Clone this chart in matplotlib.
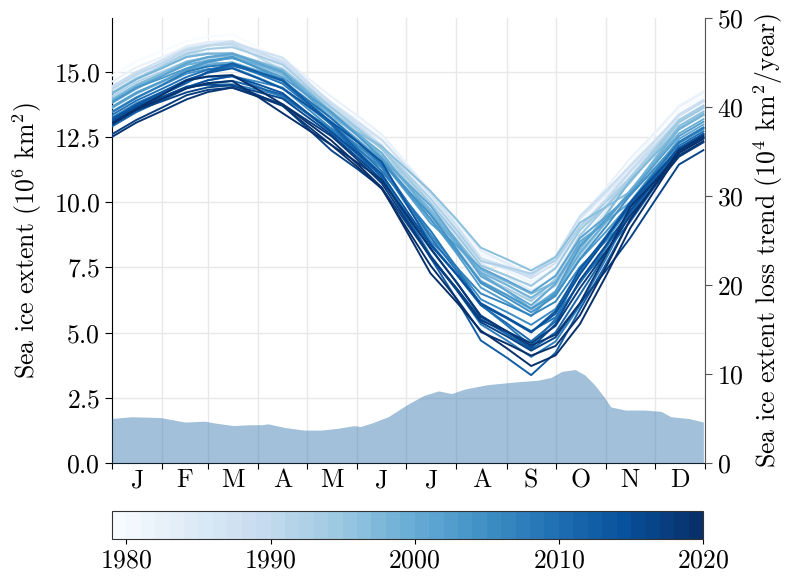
import matplotlib
matplotlib.use("Agg")
import matplotlib.pyplot as plt
import numpy as np

plt.rcParams['font.family'] = ['cmr10', 'DejaVu Serif']
plt.rcParams['mathtext.fontset'] = 'cm'
plt.rcParams['axes.formatter.use_mathtext'] = True
plt.rcParams['font.size'] = 18.5

# sample days (day of year, 0 = Jan 1): 1st and 16th of each month + Dec 31
sample_days = [0, 15, 31, 46, 59, 74, 90, 105, 120, 135, 151, 166, 181, 196,
               212, 227, 243, 258, 273, 288, 304, 319, 334, 349, 364]

years = list(range(1979, 2021))

extent = {
    1979: [14.86, 15.41, 15.80, 16.18, 16.36, 16.44, 15.95, 15.45, 14.66, 13.86, 13.20, 12.53, 11.42, 10.31, 9.18, 8.04, 7.45, 6.85, 7.40, 8.75, 9.85, 10.94, 12.23, 13.52, 14.07],
    1980: [14.31, 14.86, 15.41, 15.96, 16.10, 16.14, 15.79, 15.43, 14.61, 13.79, 13.00, 12.20, 11.15, 10.10, 9.04, 7.98, 7.73, 7.47, 7.93, 9.18, 10.33, 11.47, 12.60, 13.72, 14.27],
    1981: [14.36, 14.91, 15.26, 15.60, 15.72, 15.73, 15.37, 15.01, 14.34, 13.66, 13.04, 12.42, 11.30, 10.18, 9.00, 7.81, 7.38, 6.94, 7.50, 8.86, 9.94, 11.02, 12.16, 13.29, 13.84],
    1982: [14.63, 15.18, 15.58, 15.97, 16.11, 16.14, 15.85, 15.55, 14.80, 14.05, 13.33, 12.61, 11.52, 10.43, 9.29, 8.14, 7.62, 7.10, 7.86, 9.42, 10.55, 11.68, 12.67, 13.66, 14.21],
    1983: [14.39, 14.94, 15.47, 16.00, 16.15, 16.19, 15.68, 15.16, 14.36, 13.56, 12.97, 12.37, 11.39, 10.40, 9.28, 8.16, 7.68, 7.19, 7.87, 9.35, 10.30, 11.24, 12.28, 13.32, 13.87],
    1984: [13.91, 14.46, 14.91, 15.35, 15.58, 15.71, 15.39, 15.07, 14.37, 13.66, 12.93, 12.20, 11.10, 9.99, 8.84, 7.68, 7.15, 6.61, 7.15, 8.48, 9.65, 10.81, 11.95, 13.09, 13.64],
    1985: [14.17, 14.72, 15.19, 15.65, 15.88, 16.00, 15.73, 15.45, 14.64, 13.83, 12.99, 12.14, 10.88, 9.62, 8.55, 7.48, 6.99, 6.50, 7.21, 8.72, 9.84, 10.95, 12.03, 13.10, 13.65],
    1986: [14.34, 14.89, 15.32, 15.74, 15.99, 16.14, 15.74, 15.33, 14.59, 13.84, 13.12, 12.40, 11.35, 10.29, 9.08, 7.86, 7.54, 7.21, 7.90, 9.39, 10.38, 11.37, 12.36, 13.35, 13.90],
    1987: [14.46, 15.01, 15.46, 15.90, 16.04, 16.08, 15.82, 15.55, 14.66, 13.76, 13.08, 12.40, 11.39, 10.38, 9.13, 7.87, 7.48, 7.08, 7.67, 9.06, 10.14, 11.21, 12.30, 13.38, 13.93],
    1988: [14.35, 14.90, 15.33, 15.75, 16.02, 16.18, 15.78, 15.38, 14.58, 13.78, 12.98, 12.17, 11.16, 10.14, 8.94, 7.74, 7.46, 7.17, 7.92, 9.47, 10.44, 11.41, 12.37, 13.32, 13.87],
    1989: [14.41, 14.96, 15.31, 15.65, 15.73, 15.70, 15.26, 14.82, 14.06, 13.29, 12.69, 12.09, 10.99, 9.89, 8.73, 7.57, 7.19, 6.81, 7.47, 8.93, 10.05, 11.16, 12.16, 13.16, 13.71],
    1990: [14.33, 14.88, 15.36, 15.84, 16.01, 16.07, 15.57, 15.07, 14.18, 13.29, 12.58, 11.87, 10.70, 9.53, 8.26, 6.99, 6.47, 5.94, 6.92, 8.69, 9.84, 10.98, 12.02, 13.06, 13.61],
    1991: [13.98, 14.53, 14.95, 15.37, 15.54, 15.61, 15.23, 14.85, 14.11, 13.37, 12.78, 12.18, 10.96, 9.73, 8.57, 7.40, 6.84, 6.27, 6.80, 8.12, 9.49, 10.86, 11.89, 12.91, 13.46],
    1992: [14.07, 14.62, 15.02, 15.41, 15.54, 15.56, 15.27, 14.97, 14.23, 13.48, 12.79, 12.09, 11.12, 10.14, 8.95, 7.75, 7.51, 7.27, 7.77, 9.07, 10.01, 10.95, 12.06, 13.16, 13.71],
    1993: [14.20, 14.75, 15.23, 15.70, 15.88, 15.95, 15.62, 15.28, 14.47, 13.66, 12.87, 12.08, 10.84, 9.59, 8.39, 7.19, 6.70, 6.20, 7.07, 8.74, 9.81, 10.88, 12.02, 13.15, 13.70],
    1994: [14.21, 14.76, 15.17, 15.57, 15.69, 15.70, 15.41, 15.12, 14.37, 13.62, 12.83, 12.04, 11.01, 9.98, 8.78, 7.58, 7.19, 6.79, 7.47, 8.94, 9.85, 10.76, 11.92, 13.07, 13.62],
    1995: [13.94, 14.49, 14.89, 15.29, 15.36, 15.33, 14.97, 14.61, 13.86, 13.10, 12.33, 11.55, 10.42, 9.29, 8.14, 6.99, 6.44, 5.88, 6.53, 7.98, 9.21, 10.43, 11.61, 12.79, 13.34],
    1996: [13.61, 14.16, 14.61, 15.05, 15.22, 15.29, 14.93, 14.56, 13.90, 13.24, 12.69, 12.14, 11.29, 10.43, 9.35, 8.26, 7.82, 7.38, 7.90, 9.22, 9.82, 10.41, 11.67, 12.93, 13.48],
    1997: [13.95, 14.50, 14.95, 15.40, 15.57, 15.63, 15.27, 14.90, 14.13, 13.35, 12.56, 11.76, 10.74, 9.72, 8.57, 7.41, 6.95, 6.49, 6.95, 8.20, 9.52, 10.83, 11.82, 12.80, 13.35],
    1998: [14.17, 14.72, 15.15, 15.58, 15.70, 15.72, 15.39, 15.06, 14.28, 13.49, 12.63, 11.77, 10.70, 9.62, 8.47, 7.31, 6.83, 6.34, 6.96, 8.37, 9.38, 10.38, 11.61, 12.83, 13.38],
    1999: [13.89, 14.44, 14.86, 15.27, 15.45, 15.52, 15.28, 15.03, 14.21, 13.38, 12.64, 11.90, 10.73, 9.55, 8.41, 7.27, 6.60, 5.92, 6.59, 8.06, 9.26, 10.46, 11.55, 12.64, 13.19],
    2000: [13.67, 14.22, 14.65, 15.08, 15.28, 15.37, 15.05, 14.72, 13.86, 13.00, 12.34, 11.68, 10.78, 9.88, 8.52, 7.16, 6.61, 6.05, 6.87, 8.49, 9.25, 10.01, 11.22, 12.43, 12.98],
    2001: [13.81, 14.36, 14.85, 15.34, 15.57, 15.70, 15.34, 14.98, 14.10, 13.22, 12.42, 11.61, 10.41, 9.20, 8.34, 7.48, 7.01, 6.53, 7.18, 8.62, 9.45, 10.27, 11.30, 12.32, 12.87],
    2002: [13.64, 14.19, 14.64, 15.09, 15.37, 15.55, 15.17, 14.79, 14.13, 13.46, 12.57, 11.68, 10.53, 9.37, 8.05, 6.73, 6.18, 5.63, 6.57, 8.31, 9.33, 10.35, 11.45, 12.54, 13.09],
    2003: [13.85, 14.40, 14.77, 15.14, 15.41, 15.58, 15.14, 14.69, 13.88, 13.06, 12.32, 11.57, 10.47, 9.36, 8.16, 6.96, 6.44, 5.92, 6.46, 7.80, 8.87, 9.94, 11.10, 12.26, 12.81],
    2004: [13.48, 14.03, 14.49, 14.94, 15.11, 15.17, 14.78, 14.38, 13.61, 12.83, 12.20, 11.56, 10.54, 9.52, 8.21, 6.90, 6.34, 5.78, 6.41, 7.83, 9.06, 10.28, 11.30, 12.32, 12.87],
    2005: [13.13, 13.68, 14.05, 14.42, 14.68, 14.84, 14.62, 14.40, 13.70, 12.99, 12.19, 11.39, 10.09, 8.78, 7.53, 6.28, 5.79, 5.30, 5.91, 7.32, 8.56, 9.80, 10.94, 12.07, 12.62],
    2006: [13.02, 13.57, 13.99, 14.41, 14.52, 14.53, 14.31, 14.08, 13.42, 12.76, 12.05, 11.33, 9.93, 8.53, 7.52, 6.50, 6.08, 5.66, 6.19, 7.52, 8.51, 9.49, 10.70, 11.90, 12.45],
    2007: [13.25, 13.80, 14.24, 14.68, 14.81, 14.83, 14.43, 14.03, 13.43, 12.83, 11.97, 11.10, 9.54, 7.97, 6.65, 5.32, 4.70, 4.07, 4.66, 6.04, 7.83, 9.62, 10.77, 11.92, 12.47],
    2008: [13.45, 14.00, 14.51, 15.01, 15.21, 15.30, 14.93, 14.55, 13.78, 13.00, 12.10, 11.20, 10.06, 8.92, 7.50, 6.07, 5.28, 4.49, 5.53, 7.37, 8.69, 10.00, 11.15, 12.30, 12.85],
    2009: [13.35, 13.90, 14.36, 14.81, 15.09, 15.26, 14.97, 14.68, 13.95, 13.22, 12.34, 11.45, 10.06, 8.67, 7.38, 6.09, 5.58, 5.06, 5.59, 6.91, 8.26, 9.60, 10.89, 12.17, 12.72],
    2010: [13.18, 13.73, 14.17, 14.61, 14.98, 15.24, 14.98, 14.71, 13.84, 12.97, 11.88, 10.79, 9.62, 8.44, 7.25, 6.05, 5.36, 4.67, 5.43, 6.98, 8.12, 9.26, 10.60, 11.93, 12.48],
    2011: [12.91, 13.46, 13.92, 14.37, 14.57, 14.66, 14.40, 14.13, 13.41, 12.68, 11.84, 10.99, 9.44, 7.88, 6.71, 5.53, 4.95, 4.36, 5.01, 6.46, 8.02, 9.58, 10.79, 12.00, 12.55],
    2012: [13.15, 13.70, 14.14, 14.58, 15.01, 15.33, 15.00, 14.66, 13.85, 13.04, 11.99, 10.94, 9.41, 7.88, 6.29, 4.70, 4.04, 3.37, 4.23, 5.89, 7.62, 9.34, 10.65, 11.96, 12.51],
    2013: [13.20, 13.75, 14.23, 14.70, 14.97, 15.14, 14.75, 14.36, 13.72, 13.08, 12.32, 11.55, 9.97, 8.39, 7.24, 6.08, 5.55, 5.01, 5.83, 7.44, 8.66, 9.88, 10.96, 12.04, 12.59],
    2014: [13.12, 13.67, 14.04, 14.41, 14.68, 14.85, 14.52, 14.19, 13.45, 12.71, 11.90, 11.08, 9.72, 8.36, 7.25, 6.13, 5.58, 5.02, 5.73, 7.23, 8.61, 9.99, 11.04, 12.08, 12.63],
    2015: [13.06, 13.61, 14.03, 14.44, 14.51, 14.47, 14.23, 13.98, 13.29, 12.60, 11.73, 10.86, 9.54, 8.22, 6.94, 5.66, 5.04, 4.42, 5.32, 7.01, 8.35, 9.69, 10.81, 11.92, 12.47],
    2016: [12.98, 13.53, 13.88, 14.22, 14.41, 14.50, 14.11, 13.72, 12.86, 11.99, 11.28, 10.56, 9.23, 7.90, 6.65, 5.40, 4.86, 4.31, 4.82, 6.12, 7.38, 8.64, 10.05, 11.45, 12.00],
    2017: [12.61, 13.16, 13.64, 14.11, 14.31, 14.40, 14.08, 13.76, 13.15, 12.54, 11.64, 10.73, 9.33, 7.93, 6.70, 5.47, 5.04, 4.60, 5.26, 6.71, 8.10, 9.48, 10.62, 11.75, 12.30],
    2018: [12.51, 13.06, 13.51, 13.95, 14.23, 14.40, 14.05, 13.70, 12.95, 12.20, 11.53, 10.85, 9.55, 8.25, 6.93, 5.61, 5.06, 4.51, 4.92, 6.13, 7.98, 9.82, 10.81, 11.80, 12.35],
    2019: [13.01, 13.56, 13.97, 14.38, 14.57, 14.65, 14.04, 13.42, 12.81, 12.20, 11.36, 10.52, 9.05, 7.58, 6.31, 5.03, 4.58, 4.12, 4.49, 5.66, 7.50, 9.34, 10.67, 11.99, 12.54],
    2020: [13.03, 13.58, 14.13, 14.68, 14.83, 14.88, 14.32, 13.76, 13.07, 12.37, 11.47, 10.57, 8.93, 7.28, 6.18, 5.08, 4.40, 3.72, 4.13, 5.33, 7.17, 9.01, 10.45, 11.89, 12.44],
}

# loss trend (10^4 km^2 / year) read from the filled area
trend_days = [0, 12, 30, 45, 57, 63, 75, 84, 92, 96, 106, 118, 129, 139, 149, 153,
              160, 170, 176, 182, 192, 201, 209, 217, 231, 248, 262, 270, 277, 285,
              291, 297, 303, 307, 316, 328, 338, 344, 355, 364]
trend_vals = [5.0, 5.2, 5.1, 4.6, 4.7, 4.5, 4.2, 4.3, 4.3, 4.4, 4.0, 3.7, 3.7, 3.9, 4.2, 4.1,
              4.5, 5.2, 5.9, 6.6, 7.6, 8.1, 7.8, 8.3, 8.8, 9.1, 9.3, 9.6, 10.3, 10.5,
              9.9, 8.8, 7.4, 6.3, 5.95, 5.95, 5.8, 5.2, 5.0, 4.6]

month_starts = [0, 31, 59, 90, 120, 151, 181, 212, 243, 273, 304, 334, 365]
month_labels = ['J', 'F', 'M', 'A', 'M', 'J', 'J', 'A', 'S', 'O', 'N', 'D']

fig = plt.figure(figsize=(7.88, 5.77), dpi=100)
ax = fig.add_axes([112/788, 1-463/577, (705-112)/788, (463-18)/577])

cmap = matplotlib.colormaps['Blues'].resampled(41)
norm = matplotlib.colors.Normalize(vmin=1979, vmax=2020)

for yr in years:
    ax.plot(sample_days, extent[yr], color=cmap(norm(yr)), lw=1.4, zorder=3)

ax.set_xlim(0, 365)
ax.set_ylim(0, 17.07)
ax.set_xticks(month_starts)
ax.set_xticklabels([])
mids = [(a + b) / 2 for a, b in zip(month_starts[:-1], month_starts[1:])]
ax.set_xticks(mids, minor=True)
ax.set_xticklabels(month_labels, minor=True)
ax.tick_params(axis='x', which='minor', length=0, pad=4)
ax.tick_params(axis='x', which='major', length=4, direction='out')
ax.tick_params(axis='y', length=5)
ax.set_yticks([0, 2.5, 5, 7.5, 10, 12.5, 15])
ax.grid(True, which='major', color='#e8e8e8', lw=1)
ax.set_axisbelow(True)
ax.spines['top'].set_visible(False)
ax.spines['right'].set_visible(False)
ax.set_ylabel(r'Sea ice extent ($10^6$ km$^2$)', labelpad=7)

ax2 = ax.twinx()
ax2.fill_between(trend_days, 0, trend_vals, color='steelblue', alpha=0.5, lw=0, zorder=1)
ax2.set_ylim(0, 50)
ax2.set_yticks([0, 10, 20, 30, 40, 50])
ax2.spines['top'].set_visible(False)
ax2.spines['left'].set_visible(False)
ax2.spines['bottom'].set_visible(False)
ax2.spines['right'].set_color('#555555')
ax2.tick_params(axis='y', colors='#555555', labelcolor='black', length=5)
ax2.set_ylabel(r'Sea ice extent loss trend ($10^4$ km$^2$/year)', labelpad=6)

cax = fig.add_axes([112/788, 1-539/577, (703-112)/788, 28/577])
sm = matplotlib.cm.ScalarMappable(norm=norm, cmap=cmap)
cb = fig.colorbar(sm, cax=cax, orientation='horizontal')
cb.set_ticks([1980, 1990, 2000, 2010, 2020])
cb.outline.set_edgecolor('#333333')

fig.savefig('out.png', dpi=100)
